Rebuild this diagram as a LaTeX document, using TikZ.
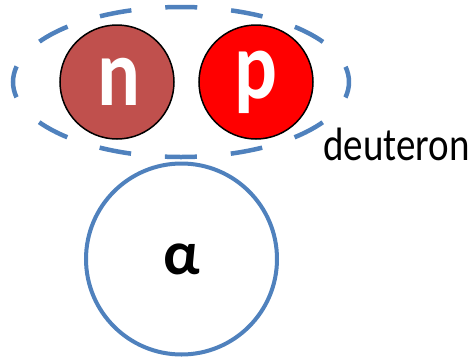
\documentclass[tikz,border=0pt]{standalone}
\usepackage{fontspec}
\setmainfont{Carlito}
\definecolor{nred}{RGB}{192,80,77}
\definecolor{bblue}{RGB}{79,129,189}
\begin{document}
\begin{tikzpicture}[x=1pt,y=-1pt,
  nucleon/.style={circle,draw=black,line width=1.5pt,minimum size=114pt,inner sep=0pt},
  bigtext/.style={text=white,font=\fontsize{80}{90}\selectfont\bfseries},
  ]
\useasboundingbox (0,0) rectangle (475,360);
\draw[bblue,line width=4.5pt,dash pattern=on 32pt off 34pt,dash phase=16pt] (181,82) ellipse [x radius=168, y radius=75];
\node[nucleon,fill=nred] (n) at (117,82) {};
\node[nucleon,fill=red] (p) at (256,82) {};
\node[bigtext] (nt) at (118.5,82) {\scalebox{1}[1.2]{n}};
\node[bigtext] (pt) at (256,82) {\scalebox{1}[1.2]{p}};
\node[circle,draw=bblue,line width=4pt,minimum size=191pt,inner sep=0pt,fill=white] (a) at (181.5,259) {};
\node[font=\fontsize{62}{70}\selectfont\bfseries] (at) at (a.center) {α};
\node[anchor=base west,inner sep=0pt,font=\fontsize{39}{45}\selectfont] (d) at (323,160) {\scalebox{1}[1.2]{deuteron}};
\end{tikzpicture}
\end{document}
